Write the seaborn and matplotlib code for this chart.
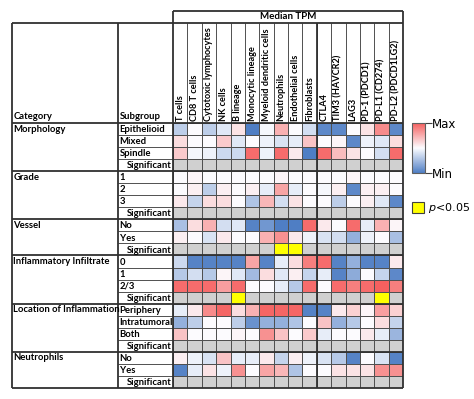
import numpy as np
import pandas as pd
import matplotlib
matplotlib.use("Agg")
import matplotlib.pyplot as plt
import seaborn as sns
from matplotlib.colors import LinearSegmentedColormap, ListedColormap
from matplotlib.patches import Rectangle

# ---- data (scaled median TPM) ----
columns = ["T cells", "CD8 T cells", "Cytotoxic lymphocytes", "NK cells", "B lineage",
           "Monocytic lineage", "Myeloid dendritic cells", "Neutrophils", "Endothelial cells",
           "Fibroblasts", "CTLA4", "TIM3 (HAVCR2)", "LAG3", "PD-1 (PDCD1)", "PD-L1 (CD274)",
           "PD-L2 (PDCD1LG2)"]

categories = ["Morphology", "Grade", "Vessel", "Inflammatory Infiltrate",
              "Location of Inflammation", "Neutrophils"]
subgroups = [["Epithelioid", "Mixed", "Spindle"], ["1", "2", "3"], ["No", "Yes"],
             ["0", "1", "2/3"], ["Periphery", "Intratumoral", "Both"], ["No", "Yes"]]

morphology = [
    [-0.9, 0.0, -0.9, -0.4, 0.4, -2.5, -0.1, 1.2, 0.0, -0.6, -2.3, -2.3, 0.0, 0.4, 1.8, -2.3],
    [0.5, 0.0, 0.0, 0.8, -0.4, 0.0, -0.2, -0.5, -0.3, 0.9, 0.0, 0.1, -2.3, -0.2, -0.4, 0.5],
    [0.8, -0.1, -0.2, -0.7, -0.7, 2.3, -0.2, 2.3, 0.3, -2.5, 2.3, 1.0, 0.4, 0.0, -0.6, 2.3],
]
grade = [
    [0.0, 0.1, 0.0, 0.0, 0.0, 0.0, 0.0, 0.1, 0.0, 0.0, 0.0, 0.0, 0.1, 0.0, 0.0, 0.0],
    [0.0, 0.2, -0.9, 0.2, 0.0, 0.2, -0.3, 1.4, -0.3, 0.0, -0.1, 0.2, -2.3, 0.2, 0.2, 0.0],
    [0.3, -0.8, 0.5, 0.5, 0.0, -1.1, 1.1, -0.6, 0.4, 0.0, 0.0, -0.9, 0.0, 0.2, -0.4, -2.3],
]
vessel = [
    [-1.2, 0.5, 1.2, -0.6, -0.4, -2.4, -2.0, -2.5, -2.5, 2.3, 0.3, 0.0, 2.3, -0.3, 1.2, 0.1],
    [0.2, 0.0, -0.5, 0.3, 0.0, 0.0, 1.2, 1.7, 0.3, -0.2, -0.5, -0.6, -1.5, -0.2, 0.0, -1.2],
]
infiltrate = [
    [-0.7, -2.4, -2.4, -2.4, -2.4, 1.4, -2.4, -0.3, 0.5, 2.0, 2.3, -2.4, -1.5, -2.4, -2.4, 0.3],
    [-1.0, -0.6, -1.0, 0.1, -0.4, -1.3, 0.5, -0.4, 0.2, -0.8, -0.3, -2.4, -1.6, 0.0, -0.8, -2.3],
    [2.3, 2.3, 2.3, 1.5, 2.3, 0.0, 0.0, -0.3, -1.0, 2.3, 0.0, 2.3, 2.0, 2.3, 2.5, 2.0],
]
location = [
    [-0.3, 0.3, 1.8, 2.4, 0.5, 1.2, 2.4, 2.4, 2.4, -2.4, -2.4, 0.3, 0.7, 0.1, 1.5, 0.7],
    [-1.5, -0.9, 0.0, 0.0, -0.9, -2.1, -1.5, -1.5, -1.1, 0.0, 0.9, -1.5, -1.0, 0.0, 0.5, -0.8],
    [0.9, 0.0, 0.0, 0.0, 0.1, 0.0, 1.7, 0.9, 0.0, 0.8, -0.3, 0.0, 0.0, 0.3, -0.3, -1.4],
]
neutrophils = [
    [0.2, -0.2, -0.5, 0.9, -0.3, -0.3, 0.3, -0.8, 0.2, -0.2, -0.5, -1.0, -2.4, 0.0, -0.5, -2.4],
    [-2.4, -0.3, 0.4, -0.2, 1.7, 0.0, 1.4, 1.1, -1.1, 0.0, 0.0, 0.4, 0.4, 0.4, 1.7, 1.7],
]
# columns with p<0.05 in each category
significant = [[], [], [7, 8], [4, 14], [], []]

blocks = [morphology, grade, vessel, infiltrate, location, neutrophils]

# ---- build matrices ----
val_rows, sig_rows, row_names = [], [], []
for cat, subs, block, sig in zip(categories, subgroups, blocks, significant):
    for sub, vals in zip(subs, block):
        val_rows.append(vals)
        sig_rows.append([np.nan] * len(columns))
        row_names.append(f"{cat}|{sub}")
    val_rows.append([np.nan] * len(columns))
    sig_rows.append([1.0 if i in sig else 0.0 for i in range(len(columns))])
    row_names.append(f"{cat}|Significant")

val_df = pd.DataFrame(val_rows, index=row_names, columns=columns)
sig_df = pd.DataFrame(sig_rows, index=row_names, columns=columns)
nrows = len(row_names)

# ---- figure ----
fig = plt.figure(figsize=(4.74, 3.99), dpi=100)
W, H = 474, 399
gx0, gx1, gy0, gy1 = 173, 403, 123, 388
ax = fig.add_axes([gx0 / W, 1 - gy1 / H, (gx1 - gx0) / W, (gy1 - gy0) / H])
cax = fig.add_axes([412 / W, 1 - 173 / H, 13 / W, 50 / H])

cmap = LinearSegmentedColormap.from_list("tpm", ["#4F7EC4", "#FCFCFF", "#F5605F"])
grid_col = "#505050"
sns.heatmap(val_df, ax=ax, cmap=cmap, vmin=-2.5, vmax=2.5, linewidths=0.6,
            linecolor=grid_col, cbar_ax=cax, xticklabels=False, yticklabels=False)
sns.heatmap(sig_df, ax=ax, cmap=ListedColormap(["#D0D0D0", "#FFFF00"]), vmin=0, vmax=1,
            linewidths=0.6, linecolor=grid_col, cbar=False,
            xticklabels=False, yticklabels=False)
ax.set_xlabel("")
ax.set_ylabel("")

fam = ["Lato", "DejaVu Sans"]

# colour bar legend
cbar = ax.collections[0].colorbar
cbar.set_ticks([-2.5, 2.5])
cbar.set_ticklabels(["Min", "Max"])
cbar.ax.tick_params(length=5, width=0.8, labelsize=8.5, pad=0, color="#404040")
cbar.outline.set_edgecolor("#606060")
cbar.outline.set_linewidth(0.8)

fig.add_artist(Rectangle((412 / W, 1 - 213 / H), 12 / W, 11 / H, transform=fig.transFigure,
                         facecolor="#FFFF00", edgecolor="#404040", linewidth=0.8))
fig.text(428 / W, 1 - 208 / H, r"$\it{p}$<0.05", fontsize=8, va="center")

# ---- table text and lines (heatmap data units) ----
cw = (gx1 - gx0) / len(columns)
rh = (gy1 - gy0) / nrows
def px_x(x):
    return (x - gx0) / cw
def px_y(y):
    return (y - gy0) / rh

x_left, x_sub, y_head, y_top = px_x(12), px_x(118), px_y(23), px_y(11)

def line(xs, ys, lw=0.7, color=grid_col):
    ax.plot(xs, ys, color=color, lw=lw, clip_on=False, solid_capstyle="butt")

fs = 6.8
# column headers
for i, c in enumerate(columns):
    ax.text(i + 0.5, -0.15, c, rotation=90, ha="center", va="bottom", fontsize=6.6,
            fontweight="bold", family=fam)
    if i > 0:
        line([i, i], [y_head, 0])
ax.text(len(columns) / 2, (y_top + y_head) / 2, "Median TPM", ha="center", va="center",
        fontsize=7, fontweight="bold", family=fam)
ax.text(x_left + 0.12, -0.15, "Category", ha="left", va="bottom", fontsize=fs,
        fontweight="bold", family=fam)
ax.text(x_sub + 0.12, -0.15, "Subgroup", ha="left", va="bottom", fontsize=fs,
        fontweight="bold", family=fam)

# rows
r = 0
bounds = [0]
for cat, subs in zip(categories, subgroups):
    ax.text(x_left + 0.08, r + 0.5, cat, ha="left", va="center", fontsize=fs,
            fontweight="bold", family=fam)
    for j, sub in enumerate(subs):
        ax.text(x_sub + 0.12, r + j + 0.55, sub, ha="left", va="center", fontsize=fs,
                fontweight="bold", family=fam)
    ax.text(-0.08, r + len(subs) + 0.55, "Significant", ha="right", va="center",
            fontsize=fs, fontweight="bold", family=fam)
    for j in range(1, len(subs) + 1):
        line([x_sub, 0], [r + j, r + j])
    r += len(subs) + 1
    bounds.append(r)

thick = 1.3
dark = "#303030"
for b in bounds:
    line([x_left, len(columns)], [b, b], lw=thick, color=dark)
line([x_left, len(columns)], [y_head, y_head], lw=thick, color=dark)
line([0, len(columns)], [y_top, y_top], lw=thick, color=dark)
for x in (x_left, x_sub):
    line([x, x], [y_head, nrows], lw=thick, color=dark)
for x in (0, len(columns)):
    line([x, x], [y_top, nrows], lw=thick, color=dark)
line([10, 10], [y_head, nrows], lw=thick, color=dark)

plt.savefig("out.png", dpi=100, facecolor="white")
plt.close()
